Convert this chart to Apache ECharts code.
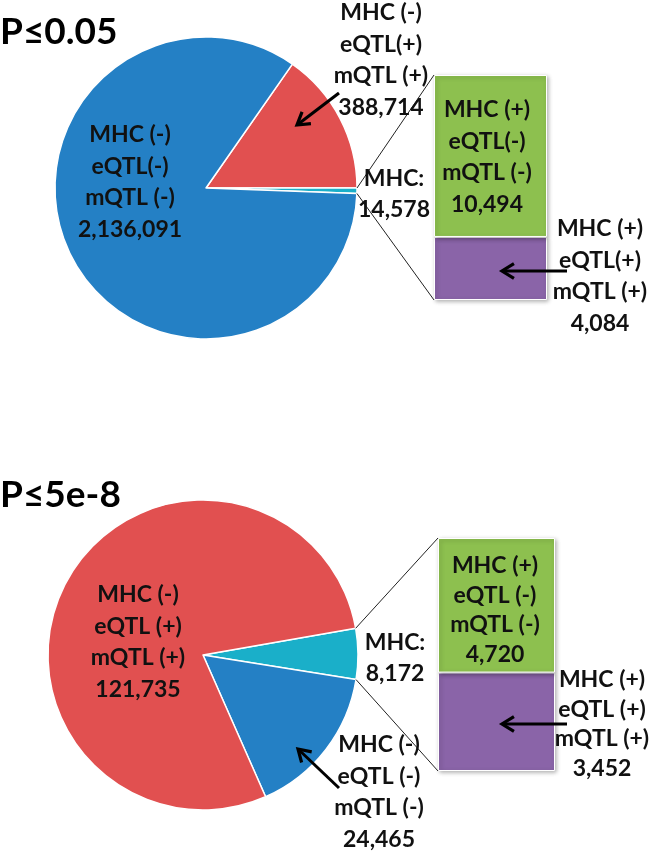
<!DOCTYPE html>
<html><head><meta charset="utf-8">
<script src="https://cdn.jsdelivr.net/npm/echarts@6/dist/echarts.min.js"></script>
<style>html,body{margin:0;padding:0;background:#fff}#c{width:656px;height:852px}</style>
</head><body><div id="c"></div>
<script>
// ---- data ----
const panelTitles = ['P\u22640.05', 'P\u22645e-8'];
const topPieNames = ['MHC (-)\neQTL(+)\nmQTL (+)', 'MHC:', 'MHC (-)\neQTL(-)\nmQTL (-)'];
const topPieValues = [388714, 14578, 2136091];
const topBarNames = ['MHC (+)\neQTL(+)\nmQTL (+)', 'MHC (+)\neQTL(-)\nmQTL (-)'];
const topBarValues = [4084, 10494];
const botPieNames = ['MHC:', 'MHC (-)\neQTL (-)\nmQTL (-)', 'MHC (-)\neQTL (+)\nmQTL (+)'];
const botPieValues = [8172, 24465, 121735];
const botBarNames = ['MHC (+)\neQTL (+)\nmQTL (+)', 'MHC (+)\neQTL (-)\nmQTL (-)'];
const botBarValues = [3452, 4720];

// ---- styles / layout ----
const C = {red:'#E15050', teal:'#1AAFC9', blue:'#2480C5', green:'#8DC04F', purple:'#8A64A8'};
const topPieColors = [C.red, C.teal, C.blue];
const botPieColors = [C.teal, C.blue, C.red];
const barColors = [C.purple, C.green];
const FONT = 'Lato';
const TXT = '#111';

const panels = [
  {title: panelTitles[0], titleY: 32,
   pieNames: topPieNames, pieValues: topPieValues, pieColors: topPieColors, tealIdx: 1,
   center: [206, 188], radius: 151,
   barNames: topBarNames, barValues: topBarValues,
   grid: {left: 434, top: 75, width: 113, height: 225},
   pieLabelPos: [[381, 60], [394, 194], [130, 182]],
   barLabelPos: [[600, 276], [487, 157]],
   lh: 31.5, barLh: 31.5,
   arrows: [[339, 93, 297, 125], [567, 271, 502, 271]]},
  {title: panelTitles[1], titleY: 495,
   pieNames: botPieNames, pieValues: botPieValues, pieColors: botPieColors, tealIdx: 0,
   center: [203, 655], radius: 155,
   barNames: botBarNames, barValues: botBarValues,
   grid: {left: 438, top: 538, width: 117, height: 233},
   pieLabelPos: [[395, 658], [379, 792], [138, 642]],
   barLabelPos: [[602, 724], [495, 610]],
   lh: 31.5, barLh: 29.5,
   arrows: [[339, 788, 298, 749], [567, 724, 502, 724]]}
];

const fmt = v => v.toLocaleString('en-US');
const sum = a => a.reduce((s, v) => s + v, 0);

const series = [], grids = [], xAxes = [], yAxes = [], graphics = [];

function arrow(x1, y1, x2, y2) {
  const a = Math.atan2(y2 - y1, x2 - x1), L = 14, W = 0.55;
  const p1 = [x2 - L * Math.cos(a - W), y2 - L * Math.sin(a - W)];
  const p2 = [x2 - L * Math.cos(a + W), y2 - L * Math.sin(a + W)];
  graphics.push({type: 'line', z: 100, shape: {x1, y1, x2, y2}, style: {stroke: '#000', lineWidth: 3}});
  graphics.push({type: 'polyline', z: 100, shape: {points: [p1, [x2, y2], p2]}, style: {stroke: '#000', lineWidth: 3.2, fill: null, lineJoin: 'miter'}});
}

function label(text, x, y, lh) {
  graphics.push({type: 'text', z: 90, x, y,
    style: {text, fontFamily: FONT, fontWeight: 'bold', fontSize: 23, fill: TXT, lineHeight: lh,
      textAlign: 'center', textVerticalAlign: 'middle'}});
}

panels.forEach((p, i) => {
  const total = sum(p.pieValues);
  let startAngle;
  if (p.tealIdx === 1) startAngle = p.pieValues[0] / total * 360;
  else startAngle = p.pieValues[0] / total * 360 / 2 + 0.4;

  series.push({
    type: 'pie', center: p.center, radius: p.radius, startAngle, clockwise: true,
    animation: false, silent: true,
    itemStyle: {borderColor: '#fff', borderWidth: 1.5},
    label: {show: false}, labelLine: {show: false},
    data: p.pieValues.map((v, k) => ({name: p.pieNames[k], value: v, itemStyle: {color: p.pieColors[k]}}))
  });
  p.pieValues.forEach((v, k) => label(p.pieNames[k] + '\n' + fmt(v), p.pieLabelPos[k][0], p.pieLabelPos[k][1], p.lh));

  grids.push(Object.assign({containLabel: false}, p.grid));
  xAxes.push({type: 'category', gridIndex: i, data: ['MHC'], show: false, boundaryGap: true});
  yAxes.push({type: 'value', gridIndex: i, min: 0, max: sum(p.barValues), show: false, splitLine: {show: false}});
  p.barValues.forEach((v, k) => {
    series.push({
      type: 'bar', xAxisIndex: i, yAxisIndex: i, stack: 'mhc' + i, barWidth: '100%',
      animation: false, silent: true,
      itemStyle: {color: barColors[k], borderColor: '#fff', borderWidth: 1,
        shadowBlur: 4, shadowColor: 'rgba(0,0,0,0.3)', shadowOffsetX: 1.5, shadowOffsetY: 1.5},
      label: {show: true, position: 'inside', fontFamily: FONT, fontWeight: 'bold', fontSize: 23,
        color: TXT, lineHeight: p.barLh, align: 'center',
        formatter: prm => p.barNames[k] + '\n' + fmt(prm.value)},
      labelLayout: () => ({x: p.barLabelPos[k][0], y: p.barLabelPos[k][1], align: 'center', verticalAlign: 'middle'}),
      data: [v]
    });
  });

  graphics.push({type: 'text', x: 0, y: p.titleY,
    style: {text: p.title, fontFamily: FONT, fontWeight: 'bold', fontSize: 37, fill: '#000',
      textAlign: 'left', textVerticalAlign: 'middle'}});

  const before = sum(p.pieValues.slice(0, p.tealIdx));
  const a1 = (startAngle - before / total * 360) * Math.PI / 180;
  const a2 = (startAngle - (before + p.pieValues[p.tealIdx]) / total * 360) * Math.PI / 180;
  const e1 = [p.center[0] + p.radius * Math.cos(a1), p.center[1] - p.radius * Math.sin(a1)];
  const e2 = [p.center[0] + p.radius * Math.cos(a2), p.center[1] - p.radius * Math.sin(a2)];
  graphics.push({type: 'line', z: 50, shape: {x1: e1[0], y1: e1[1], x2: p.grid.left, y2: p.grid.top}, style: {stroke: '#222', lineWidth: 1}});
  graphics.push({type: 'line', z: 50, shape: {x1: e2[0], y1: e2[1], x2: p.grid.left, y2: p.grid.top + p.grid.height}, style: {stroke: '#222', lineWidth: 1}});

  p.arrows.forEach(a => arrow(a[0], a[1], a[2], a[3]));
});

const chart = echarts.init(document.getElementById('c'), null, {renderer: 'canvas'});
chart.setOption({
  backgroundColor: '#fff', animation: false,
  grid: grids, xAxis: xAxes, yAxis: yAxes, series, graphic: graphics
});
</script></body></html>
